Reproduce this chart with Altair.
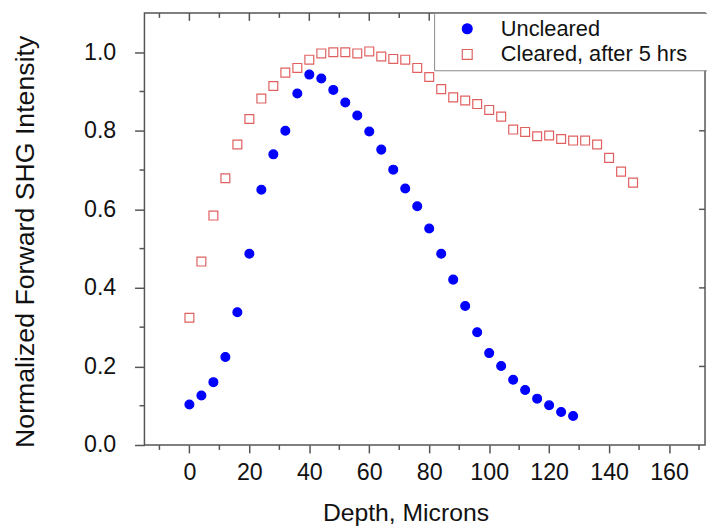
import altair as alt
import pandas as pd

# ---- data ----
depth_uncleared = [0, 4, 8, 12, 16, 20, 24, 28, 32, 36, 40, 44, 48, 52, 56, 60, 64,
                   68, 72, 76, 80, 84, 88, 92, 96, 100, 104, 108, 112, 116, 120, 124, 128]
uncleared = [0.103, 0.126, 0.160, 0.224, 0.338, 0.487, 0.650, 0.740, 0.800, 0.895,
             0.943, 0.933, 0.904, 0.872, 0.839, 0.798, 0.752, 0.701, 0.653, 0.608,
             0.551, 0.487, 0.421, 0.354, 0.287, 0.234, 0.201, 0.166, 0.140, 0.118,
             0.101, 0.084, 0.074]

depth_cleared = [0, 4, 8, 12, 16, 20, 24, 28, 32, 36, 40, 44, 48, 52, 56, 60, 64, 68,
                 72, 76, 80, 84, 88, 92, 96, 100, 104, 108, 112, 116, 120, 124, 128,
                 132, 136, 140, 144, 148]
cleared = [0.324, 0.467, 0.584, 0.679, 0.765, 0.830, 0.882, 0.914, 0.948, 0.960,
           0.981, 0.997, 1.000, 1.000, 0.997, 1.002, 0.989, 0.983, 0.981, 0.960,
           0.937, 0.906, 0.885, 0.877, 0.868, 0.853, 0.836, 0.803, 0.797, 0.786,
           0.788, 0.779, 0.775, 0.775, 0.765, 0.731, 0.696, 0.668]

series_names = ["Uncleared", "Cleared, after 5 hrs"]

x_major_ticks = [0, 20, 40, 60, 80, 100, 120, 140, 160]
x_minor_ticks = [-10, 10, 30, 50, 70, 90, 110, 130, 150, 170]
y_major_ticks = [0.0, 0.2, 0.4, 0.6, 0.8, 1.0]
y_minor_ticks = [0.1, 0.3, 0.5, 0.7, 0.9]

rows = []
for d, v in zip(depth_uncleared, uncleared):
    rows.append({"depth": d, "value": v, "series": series_names[0]})
for d, v in zip(depth_cleared, cleared):
    rows.append({"depth": d, "value": v, "series": series_names[1]})
df = pd.DataFrame(rows)

FONT = "Liberation Sans"
AXIS_GREY = "#555555"
TXT = "#111111"
W, H = 567, 437

xscale = alt.Scale(domain=[-15, 172], nice=False, zero=False)
yscale = alt.Scale(domain=[0, 1.1], nice=False, zero=False)

leg = alt.Legend(
    title=" ", orient="none", legendX=293, legendY=0, padding=5,
    strokeColor="#8a8a8a", fillColor="white",
    labelFont=FONT, labelFontSize=22, labelColor=TXT, labelLimit=0,
    symbolOffset=17.5, labelOffset=23, rowPadding=4,
    titleOrient="right", titlePadding=40, titleFontSize=10,
    symbolStrokeWidth=1.2,
)

x_axis = alt.Axis(
    values=x_major_ticks, tickSize=8,
    tickColor=AXIS_GREY, tickWidth=1.5, domain=False, grid=False,
    labelFont=FONT, labelFontSize=23.5, labelColor=TXT, labelPadding=8,
    labelFlush=False, labelOverlap=False,
    title="Depth, Microns", titleFont=FONT, titleFontSize=25, titleFontWeight="normal",
    titleColor=TXT, titleX=264, titleY=76.7, titleAlign="center",
    titleBaseline="alphabetic", titleAngle=0,
)

y_axis = alt.Axis(
    values=y_major_ticks, format=".1f", tickSize=10,
    tickColor=AXIS_GREY, tickWidth=1.5, domain=False, grid=False,
    labelFont=FONT, labelFontSize=23.5, labelColor=TXT, labelPadding=19,
    labelFlush=False, labelOverlap=False,
    title="Normalized Forward SHG Intensity", titleFont=FONT, titleFontSize=27,
    titleFontWeight="normal", titleColor=TXT, titleX=-112.5, titleY=231,
    titleAlign="center", titleBaseline="alphabetic", titleAngle=270,
)

points = alt.Chart(df).mark_point(size=80, strokeWidth=1.2, opacity=1).encode(
    x=alt.X("depth:Q", scale=xscale, axis=x_axis),
    y=alt.Y("value:Q", scale=yscale, axis=y_axis),
    shape=alt.Shape("series:N", scale=alt.Scale(domain=series_names, range=["circle", "square"]), legend=leg),
    fill=alt.Fill("series:N", scale=alt.Scale(domain=series_names, range=["#0000ff", "transparent"]), legend=leg),
    stroke=alt.Stroke("series:N", scale=alt.Scale(domain=series_names, range=["#0000ff", "#e06060"]), legend=leg),
)

def xrule(vals, y0, y1):
    return alt.Chart(pd.DataFrame({"t": vals})).mark_rule(color=AXIS_GREY, strokeWidth=1.5).encode(
        x=alt.X("t:Q", scale=xscale, axis=None), y=alt.value(y0), y2=alt.value(y1))

def yrule(vals, x0, x1):
    return alt.Chart(pd.DataFrame({"t": vals})).mark_rule(color=AXIS_GREY, strokeWidth=1.5).encode(
        y=alt.Y("t:Q", scale=yscale, axis=None), x=alt.value(x0), x2=alt.value(x1))

layers = [
    points,
    xrule(x_major_ticks, 0, 8),          # top inward majors
    xrule(x_minor_ticks, 0, 5),          # top inward minors
    xrule(x_minor_ticks, H, H + 5),      # bottom outward minors
    yrule(y_minor_ticks, 0, -5),         # left outward minors
    yrule(y_major_ticks[1:], W, W - 6),  # right inward majors
]

chart = alt.layer(*layers).resolve_axis(x="independent", y="independent").properties(
    width=W, height=H,
    autosize=alt.AutoSizeParams(type="none"),
    padding={"left": 138, "top": 2, "right": 2, "bottom": 84},
    background="white",
).configure_view(stroke=AXIS_GREY, strokeWidth=1.5)

chart.save("out.html", embed_options={"renderer": "svg", "actions": False})
